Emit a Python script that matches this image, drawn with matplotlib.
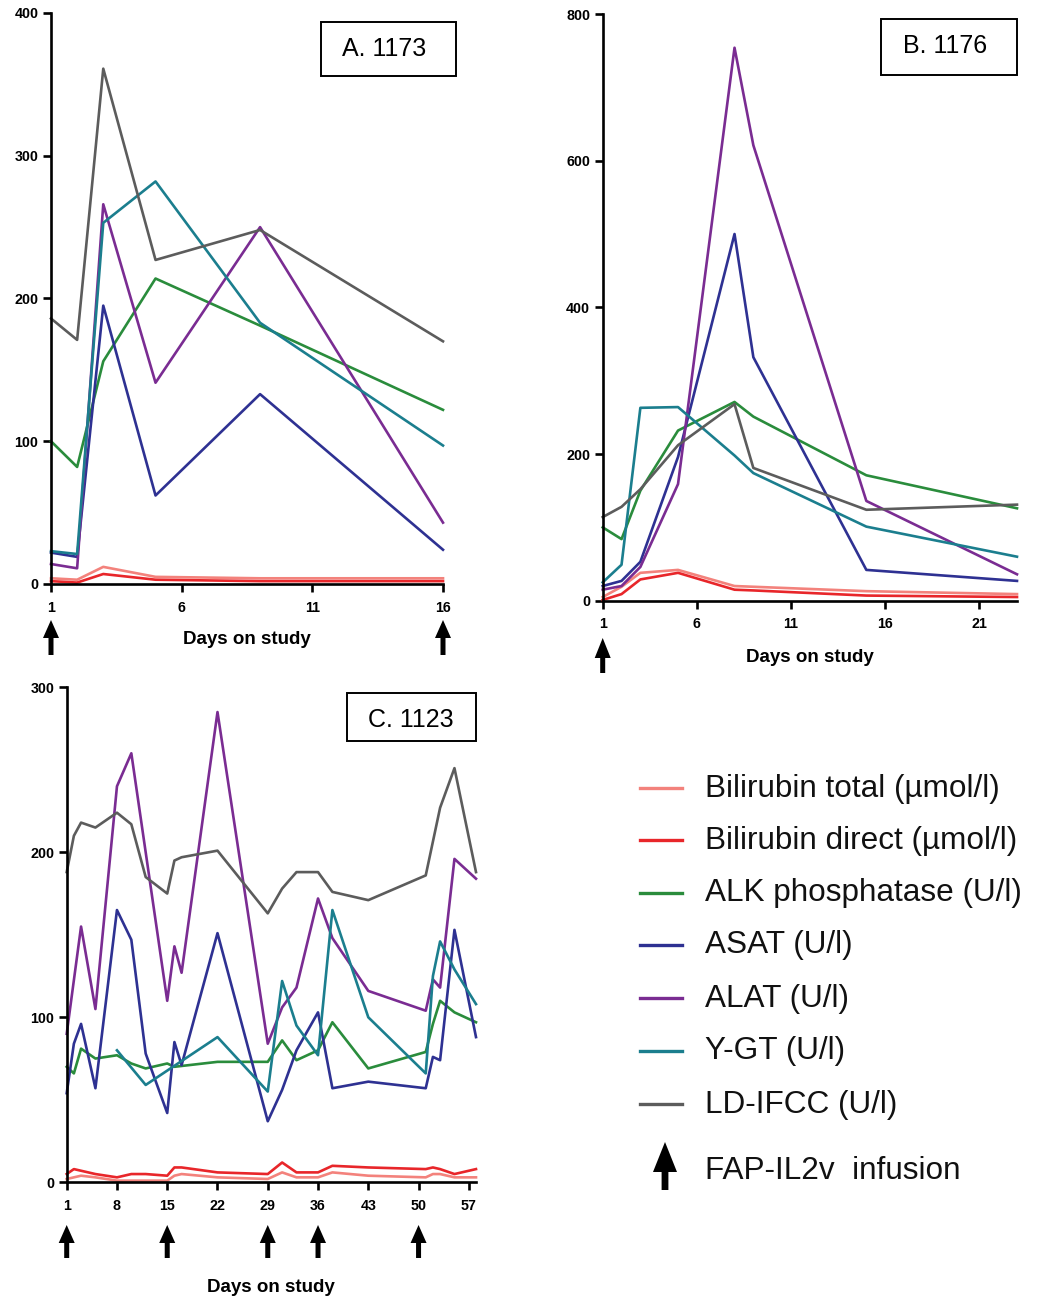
import matplotlib
matplotlib.use('Agg')
import matplotlib.pyplot as plt
from matplotlib.patches import Rectangle, Polygon
from matplotlib.lines import Line2D
from matplotlib.transforms import IdentityTransform

W, H = 1045, 1298
plt.rcParams['font.family'] = ['Liberation Sans', 'DejaVu Sans']

# ── Daten ────────────────────────────────────────────────────
series_names = ['Bilirubin total (µmol/l)', 'Bilirubin direct (µmol/l)',
                'ALK phosphatase (U/l)', 'ASAT (U/l)', 'ALAT (U/l)',
                'Y-GT (U/l)', 'LD-IFCC (U/l)']
colors = ['#f3827c', '#e8262a', '#2a8c3c', '#2e3192', '#7a2c92', '#1b7e8e', '#5c5c5c']

# A. 1173
days_a = [1, 2, 3, 5, 9, 16]
bili_total_a = [4, 3, 12, 5, 4, 4]
bili_direct_a = [2, 1, 7, 3, 2, 2]
alk_a = [100, 82, 156, 214, 181, 122]
asat_a = [22, 19, 195, 62, 133, 24]
alat_a = [14, 11, 266, 141, 250, 43]
ygt_a = [23, 21, 253, 282, 183, 97]
ld_a = [186, 171, 361, 227, 248, 170]
infusions_a = [1, 16]

# B. 1176
days_b = [1, 2, 3, 5, 8, 9, 15, 23]
bili_total_b = [5, 19, 38, 42, 20, 19, 13, 9]
bili_direct_b = [1, 9, 29, 38, 15, 14, 7, 5]
alk_b = [100, 84, 150, 232, 271, 251, 171, 126]
asat_b = [20, 27, 53, 196, 500, 332, 42, 27]
alat_b = [15, 20, 46, 159, 754, 621, 136, 36]
ygt_b = [25, 49, 263, 264, 198, 174, 101, 60]
ld_b = [114, 128, 152, 212, 268, 181, 124, 131]
infusions_b = [1]

# C. 1123
days_c = [1, 2, 3, 5, 8, 10, 12, 15, 16, 17, 22, 29, 31, 33, 36, 38, 43, 51, 52, 53, 55, 58]
bili_total_c = [2, 3, 4, 3, 1, 1, 1, 1, 4, 5, 3, 2, 6, 3, 3, 6, 4, 3, 5, 5, 3, 3]
bili_direct_c = [5, 8, None, 5, 3, 5, 5, 4, 9, 9, 6, 5, 12, 6, 6, 10, 9, 8, 9, 8, 5, 8]
alk_c = [70, 66, 81, 75, 77, 72, 69, 72, 70, None, 73, 73, 86, 74, 80, 97, 69, 79, 96, 110, 103, 97]
asat_c = [54, 84, 96, 57, 165, 147, 78, 42, 85, 71, 151, 37, 56, 80, 103, 57, 61, 57, 76, 74, 153, 88]
alat_c = [90, None, 155, 105, 240, 260, None, 110, 143, 127, 285, 84, 106, 118, 172, 148, 116, 104, 123, 118, 196, 184]
ygt_c = [None, None, None, None, 80, None, 59, None, None, None, 88, 55, 122, 95, 77, 165, 100, 66, 125, 146, 129, 108]
ld_c = [188, 210, 218, 215, 224, 217, 185, 175, 195, 197, 201, 163, 178, 188, 188, 176, 171, 186, None, 227, 251, 188]
infusions_c = [1, 15, 29, 36, 50]

fig = plt.figure(figsize=(W / 100, H / 100), dpi=100)


def rect(x0, y0, x1, y1):
    # Bildpixel (oben links) -> Figure-Anteil
    return [x0 / W, 1 - y1 / H, (x1 - x0) / W, (y1 - y0) / H]


def panel(box, days, series, xlim, xticks, ylim, yticks, label_y):
    ax = fig.add_axes(box)
    for vals, c in zip(series, colors):
        pts = [(d, v) for d, v in zip(days, vals) if v is not None]
        xs, ys = zip(*pts)
        ax.plot(xs, ys, color=c, lw=1.9, clip_on=False)
    ax.set_xlim(*xlim)
    ax.set_ylim(*ylim)
    ax.set_xticks(xticks)
    ax.set_yticks(yticks)
    ax.spines['top'].set_visible(False)
    ax.spines['right'].set_visible(False)
    for s in ['left', 'bottom']:
        ax.spines[s].set_linewidth(1.9)
    ax.tick_params(width=1.9, length=5.5, labelsize=10.3)
    ax.tick_params(axis='y', pad=3.5)
    ax.tick_params(axis='x', pad=6.5)
    for lab in ax.get_xticklabels() + ax.get_yticklabels():
        lab.set_fontweight('bold')
    ax.set_xlabel('Days on study', fontsize=13.5, fontweight='bold')
    ax.xaxis.label.set_va('baseline')
    ax.xaxis.set_label_coords(0.5, label_y)
    return ax


def arrow(xc, y_tip, y_base, y_end, hw=8, sw=2.5):
    pts = [(xc, H - y_tip), (xc + hw, H - y_base), (xc + sw, H - y_base),
           (xc + sw, H - y_end), (xc - sw, H - y_end), (xc - sw, H - y_base),
           (xc - hw, H - y_base)]
    fig.add_artist(Polygon(pts, closed=True, color='black', lw=0,
                           transform=IdentityTransform()))


def tag(text, x0, y0, x1, y1, tx, ty):
    fig.add_artist(Rectangle((x0 / W, 1 - y1 / H), (x1 - x0) / W, (y1 - y0) / H,
                             fill=False, ec='black', lw=1.4, transform=fig.transFigure))
    fig.text(tx / W, 1 - ty / H, text, fontsize=18, va='baseline', ha='left')


ax_a = panel(rect(51, 13, 443, 584), days_a,
             [bili_total_a, bili_direct_a, alk_a, asat_a, alat_a, ygt_a, ld_a],
             (1, 16), [1, 6, 11, 16], (0, 400), [0, 100, 200, 300, 400], -0.1056)
ax_b = panel(rect(602.7, 14, 1017, 600.7), days_b,
             [bili_total_b, bili_direct_b, alk_b, asat_b, alat_b, ygt_b, ld_b],
             (1, 23), [1, 6, 11, 16, 21], (0, 800), [0, 200, 400, 600, 800], -0.104)
ax_c = panel(rect(66.7, 687.3, 476, 1182.3), days_c,
             [bili_total_c, bili_direct_c, alk_c, asat_c, alat_c, ygt_c, ld_c],
             (1, 58), [1, 8, 15, 22, 29, 36, 43, 50, 57], (0, 300), [0, 100, 200, 300], -0.221)

# Infusionspfeile unter der x-Achse
for ax, days, (yt, yb, ye) in [(ax_a, infusions_a, (620, 638, 655)),
                               (ax_b, infusions_b, (638, 658, 673)),
                               (ax_c, infusions_c, (1225, 1243, 1258))]:
    for d in days:
        xc = ax.transData.transform((d, 0))[0]
        arrow(xc, yt, yb, ye)

tag('A. 1173', 320.7, 22.3, 455.7, 75.7, 342, 56)
tag('B. 1176', 880.7, 19, 1017.3, 75, 902.7, 52.7)
tag('C. 1123', 346.7, 692.7, 476, 741, 367.7, 727)

# Legende
rows = [788, 840, 893, 945, 998, 1051, 1104]
for name, c, y in zip(series_names, colors, rows):
    fig.add_artist(Line2D([640 / W, 682 / W], [1 - y / H, 1 - y / H], color=c, lw=2.4,
                          transform=fig.transFigure))
    fig.text(705 / W, 1 - (y + 8.5) / H, name, fontsize=22.7, va='baseline', ha='left',
             color='#111111')
arrow(665, 1142, 1172, 1190, hw=12, sw=3.4)
fig.text(705 / W, 1 - 1179 / H, 'FAP-IL2v  infusion', fontsize=22.7, va='baseline',
         ha='left', color='#111111')

fig.savefig('out.png', dpi=100)
